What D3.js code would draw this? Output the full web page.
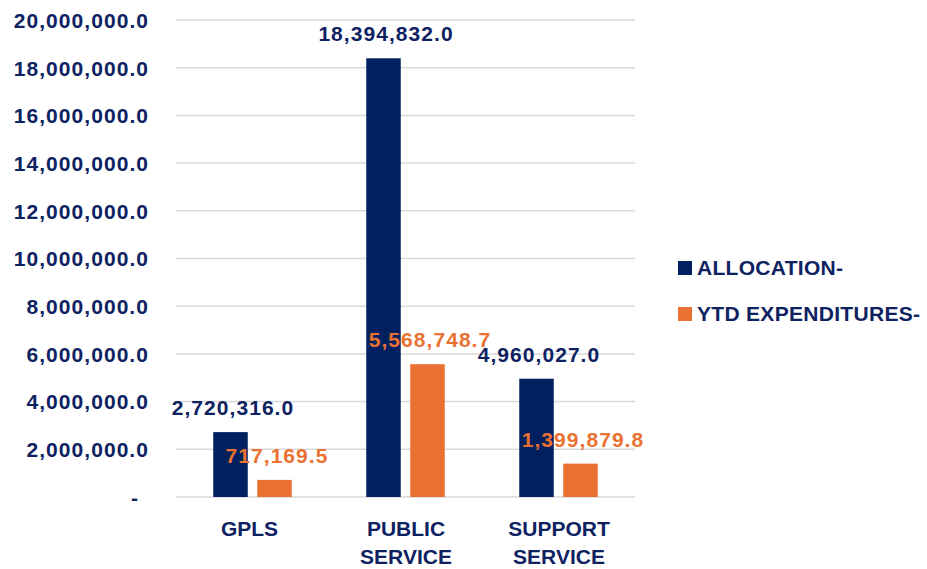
<!DOCTYPE html>
<html><head><meta charset="utf-8">
<script src="https://cdn.jsdelivr.net/npm/d3@7"></script>
<style>body{margin:0;background:#fff}</style>
</head><body><svg id="c" width="927" height="569"></svg>
<script>
const categories = [["GPLS"], ["PUBLIC", "SERVICE"], ["SUPPORT", "SERVICE"]];
const seriesNames = ["ALLOCATION-", "YTD EXPENDITURES-"];
const allocation = [2720316.0, 18394832.0, 4960027.0];
const expenditures = [717169.5, 5568748.7, 1399879.8];
const yTicks = [0, 2000000, 4000000, 6000000, 8000000, 10000000, 12000000, 14000000, 16000000, 18000000, 20000000];
const colors = ["#002060", "#E97132"];
const textColor = "#0E2262";

(function () {
const svg = d3.select("#c");
const font = "'Liberation Sans', Arial, sans-serif";
const pLeft = 176, pRight = 635, pTop = 20, pBottom = 497;
const x = d3.scaleBand().domain(categories.map((d, i) => i)).range([pLeft, pRight]).padding(0);
const y = d3.scaleLinear().domain([0, 20000000]).range([pBottom, pTop]);
const fmt = d3.format(",.1f");

// gridlines
svg.append("g").selectAll("line").data(yTicks).join("line")
  .attr("x1", pLeft).attr("x2", pRight)
  .attr("y1", d => y(d)).attr("y2", d => y(d))
  .attr("stroke", "#d9d9d9").attr("stroke-width", 1.5);

// y axis labels
const yAxis = d3.axisLeft(y).tickValues(yTicks).tickSize(0).tickPadding(0)
  .tickFormat(d => d === 0 ? "-" : fmt(d));
const ya = svg.append("g").attr("transform", "translate(149,0)").call(yAxis);
ya.select(".domain").remove();
ya.selectAll("text").attr("font-family", font).attr("font-weight", "bold")
  .attr("font-size", 21).attr("letter-spacing", 1.05).attr("fill", textColor).attr("dy", "0.35em")
  .attr("dx", d => d === 0 ? -10 : 0);

const barW = 34.5, gap = 9.5;
const series = [allocation, expenditures];
series.forEach((vals, s) => {
  const cx = i => x(i) + x.bandwidth() / 2 + (s === 0 ? -(gap / 2 + barW / 2) : (gap / 2 + barW / 2));
  svg.append("g").selectAll("rect").data(vals).join("rect")
    .attr("x", (d, i) => cx(i) - barW / 2)
    .attr("width", barW)
    .attr("y", d => y(d))
    .attr("height", d => pBottom - y(d))
    .attr("fill", colors[s]);
  svg.append("g").selectAll("text").data(vals).join("text")
    .attr("x", (d, i) => cx(i) + 2.5)
    .attr("y", d => y(d) - 17)
    .attr("text-anchor", "middle")
    .attr("font-family", font).attr("font-weight", "bold").attr("font-size", 21)
    .attr("letter-spacing", 1.05)
    .attr("fill", s === 0 ? textColor : colors[1])
    .text(d => fmt(d));
});

// category labels
const xg = svg.append("g");
categories.forEach((lines, i) => {
  const cxl = x(i) + x.bandwidth() / 2 + (i === 0 ? -3 : 0.5);
  const t = xg.append("text")
    .attr("x", cxl)
    .attr("y", 536)
    .attr("text-anchor", "middle")
    .attr("font-family", font).attr("font-weight", "bold").attr("font-size", 21)
    .attr("fill", textColor);
  lines.forEach((l, j) => t.append("tspan").attr("x", cxl).attr("dy", j === 0 ? 0 : 28).text(l));
});

// legend
const lg = svg.append("g").selectAll("g").data(seriesNames).join("g")
  .attr("transform", (d, i) => `translate(678,${261 + i * 46})`);
lg.append("rect").attr("width", 14).attr("height", 14).attr("fill", (d, i) => colors[i]);
lg.append("text").attr("x", 19).attr("y", 13.5)
  .attr("font-family", font).attr("font-weight", "bold").attr("font-size", 21)
  .attr("letter-spacing", 0.3)
  .attr("fill", textColor).text(d => d);
})();
</script></body></html>
